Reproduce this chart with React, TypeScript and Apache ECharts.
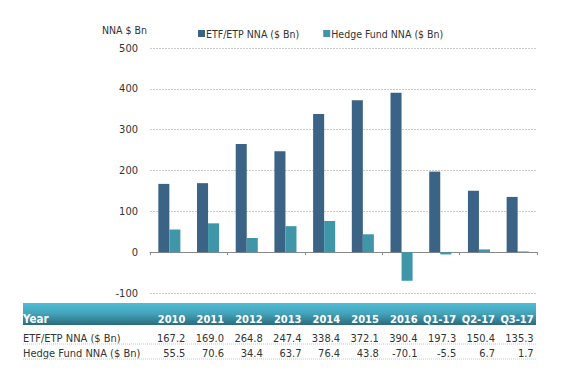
import React, { useEffect, useRef } from "react";
import * as echarts from "echarts";

const categories = ["2010", "2011", "2012", "2013", "2014", "2015", "2016", "Q1-17", "Q2-17", "Q3-17"];
const etfValues = [167.2, 169.0, 264.8, 247.4, 338.4, 372.1, 390.4, 197.3, 150.4, 135.3];
const hedgeValues = [55.5, 70.6, 34.4, 63.7, 76.4, 43.8, -70.1, -5.5, 6.7, 1.7];
const seriesNames = ["ETF/ETP NNA ($ Bn)", "Hedge Fund NNA ($ Bn)"];
const yTicks = { min: -100, max: 500, interval: 100 };
const yAxisName = "NNA $ Bn";
const tableHeaderLabel = "Year";

const FONT = "'DejaVu Sans Condensed', 'Liberation Sans', Arial, sans-serif";
const ETF_COLOR = "#3B6385";
const HEDGE_COLOR = "#3F96A8";

export default function App() {
  const ref = useRef<HTMLDivElement>(null);
  useEffect(() => {
    if (!ref.current) return;
    const chart = echarts.init(ref.current, undefined, { renderer: "svg" });
    const option: any = {
      animation: false,
      backgroundColor: "#ffffff",
      textStyle: { fontFamily: FONT },
      legend: {
        data: seriesNames,
        left: 193,
        top: 23,
        itemWidth: 7,
        itemHeight: 7,
        itemGap: 24,
        icon: "rect",
        textStyle: { fontSize: 10.5, color: "#333", fontFamily: FONT, padding: [0, 0, 0, -4] },
      },
      grid: { left: 150, right: 32, top: 48, bottom: 88, containLabel: false },
      xAxis: {
        type: "category",
        data: categories,
        axisLine: { onZero: true, lineStyle: { color: "#888", width: 1 } },
        axisTick: { show: true, length: 3, lineStyle: { color: "#888" } },
        axisLabel: { show: false },
        splitLine: { show: false },
      },
      yAxis: {
        type: "value",
        min: yTicks.min,
        max: yTicks.max,
        interval: yTicks.interval,
        name: yAxisName,
        nameLocation: "end",
        nameGap: 13,
        nameTextStyle: { fontSize: 10.5, color: "#333", align: "right", padding: [0, 3, 0, 0], fontFamily: FONT },
        axisLine: { show: false },
        axisTick: { show: false },
        axisLabel: { fontSize: 11, color: "#333", margin: 12, fontFamily: FONT },
        splitLine: { lineStyle: { color: "#cccccc", type: [2, 1], width: 1 } },
      },
      series: [
        {
          name: seriesNames[0],
          type: "bar",
          data: etfValues,
          itemStyle: { color: ETF_COLOR },
          barGap: "0%",
          barCategoryGap: "43%",
        },
        {
          name: seriesNames[1],
          type: "bar",
          data: hedgeValues,
          itemStyle: { color: HEDGE_COLOR },
        },
      ],
    };
    chart.setOption(option);

    const left = 23;
    const right = 536;
    const headerTop = 303;
    const headerH = 22;
    const headerY = headerTop + 16;
    const row1Y = 338;
    const row2Y = 353;
    const elements: any[] = [
      {
        type: "rect",
        shape: { x: left, y: headerTop, width: right - left, height: headerH },
        style: {
          fill: new echarts.graphic.LinearGradient(0, 0, 0, 1, [
            { offset: 0, color: "#50BCD4" },
            { offset: 0.45, color: "#44A6BD" },
            { offset: 1, color: "#2C6B7C" },
          ]),
        },
        silent: true,
      },
      {
        type: "text",
        x: left,
        y: headerY,
        style: { text: tableHeaderLabel, fill: "#fff", font: `bold 11.5px ${FONT}`, verticalAlign: "middle" },
      },
      {
        type: "text",
        x: left,
        y: row1Y,
        style: { text: seriesNames[0], fill: "#333", font: `11px ${FONT}`, verticalAlign: "middle" },
      },
      {
        type: "text",
        x: left,
        y: row2Y,
        style: { text: seriesNames[1], fill: "#333", font: `11px ${FONT}`, verticalAlign: "middle" },
      },
      {
        type: "line",
        shape: { x1: left, y1: row1Y + 6, x2: right, y2: row1Y + 6 },
        style: { stroke: "#c8c8c8", lineWidth: 1, lineDash: [1, 1] },
      },
      {
        type: "line",
        shape: { x1: left, y1: row2Y + 6, x2: right, y2: row2Y + 6 },
        style: { stroke: "#c8c8c8", lineWidth: 1, lineDash: [1, 1] },
      },
    ];
    categories.forEach((c, i) => {
      const cx = chart.convertToPixel({ xAxisIndex: 0 }, i) as number;
      const rx = cx + 16;
      elements.push({
        type: "text",
        x: rx,
        y: headerY,
        style: { text: c, fill: "#fff", font: `bold 11px ${FONT}`, align: "right", verticalAlign: "middle" },
      });
      elements.push({
        type: "text",
        x: rx,
        y: row1Y,
        style: { text: etfValues[i].toFixed(1), fill: "#333", font: `11px ${FONT}`, align: "right", verticalAlign: "middle" },
      });
      elements.push({
        type: "text",
        x: rx,
        y: row2Y,
        style: { text: hedgeValues[i].toFixed(1), fill: "#333", font: `11px ${FONT}`, align: "right", verticalAlign: "middle" },
      });
    });
    chart.setOption({ graphic: { elements } });

    return () => chart.dispose();
  }, []);
  return <div ref={ref} style={{ width: 569, height: 381, position: "absolute", left: 0, top: 0 }} />;
}
